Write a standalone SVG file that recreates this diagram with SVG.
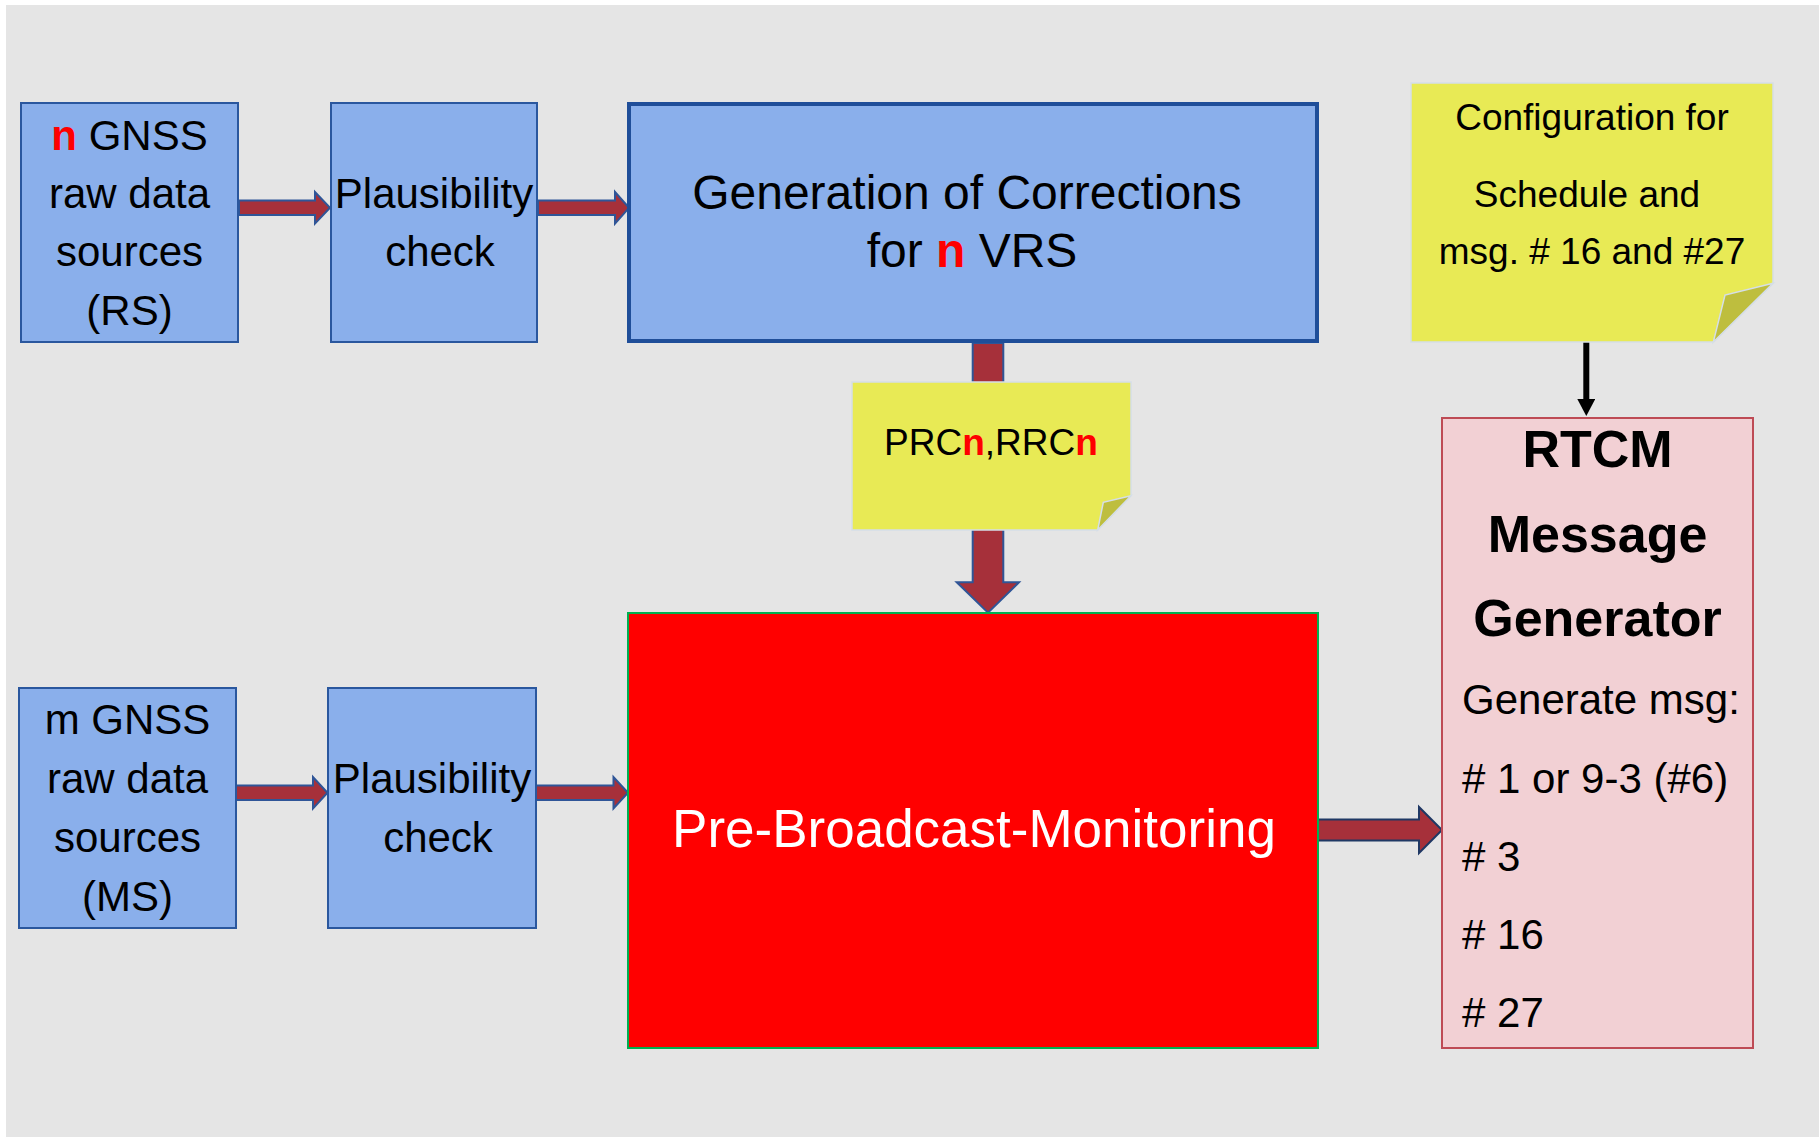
<svg xmlns="http://www.w3.org/2000/svg" width="1819" height="1137" viewBox="0 0 1819 1137">
<defs>
<style>
text{font-family:"Liberation Sans",Arial,sans-serif;fill:#000}
.blue{fill:#8AAFEB;stroke:#2A579E;stroke-width:2}
.blk{fill:#A6303A;stroke:#2F5597;stroke-width:2;stroke-linejoin:miter}
.note{fill:#E8EA55;stroke:#D5DEE8;stroke-width:1.5}
.fold{fill:#BEBE3E;stroke:#D5DEE8;stroke-width:1.5}
.t42{font-size:42px;text-anchor:middle}
.red{fill:#FF0000;font-weight:bold}
</style>
<marker id="blackhead" viewBox="0 0 18 18" refX="0" refY="9" markerWidth="18" markerHeight="18" markerUnits="userSpaceOnUse" orient="auto">
<path d="M0,0 L17,9 L0,18 z" fill="#000"/>
</marker>
</defs>
<rect x="0" y="0" width="1819" height="1137" fill="#FFFFFF"/>
<rect x="6" y="5" width="1813" height="1132" fill="#E5E5E5"/>

<g id="connectors">
<polygon class="blk" points="239,200.6 315,200.6 315,192 330,207.8 315,223.6 315,215 239,215"/>
<polygon class="blk" points="538,200.6 615,200.6 615,192 629,207.8 615,223.6 615,215 538,215"/>
<polygon class="blk" points="236,785.5 313,785.5 313,777 327.5,792.7 313,808.4 313,799.9 236,799.9"/>
<polygon class="blk" points="536,785.5 613.5,785.5 613.5,777 628,792.7 613.5,808.4 613.5,799.9 536,799.9"/>
<polygon class="blk" points="1318,819.5 1419,819.5 1419,807 1442,830 1419,853 1419,840.5 1318,840.5" style="stroke:#1F3864"/>
<polygon class="blk" points="972.7,343 1003.3,343 1003.3,582.3 1019,582.3 988,612.7 956.7,582.3 972.7,582.3"/>
<line x1="1586.3" y1="338" x2="1586.3" y2="399" stroke="#000" stroke-width="6" marker-end="url(#blackhead)"/>
</g>

<g id="rs">
<rect class="blue" x="21" y="103" width="217" height="239"/>
<text class="t42" x="129.5" y="150"><tspan class="red">n</tspan> GNSS</text>
<text class="t42" x="129.5" y="208">raw data</text>
<text class="t42" x="129.5" y="266">sources</text>
<text class="t42" x="129.5" y="325">(RS)</text>
</g>

<g id="plaus-top">
<rect class="blue" x="331" y="103" width="206" height="239"/>
<text class="t42" x="434" y="208">Plausibility</text>
<text class="t42" x="440" y="266">check</text>
</g>

<g id="generation">
<rect x="629" y="104" width="688" height="237" fill="#8AAFEB" stroke="#1F4E99" stroke-width="4"/>
<text x="967" y="209" font-size="48" text-anchor="middle">Generation of Corrections</text>
<text x="972" y="267" font-size="48" text-anchor="middle">for <tspan class="red">n</tspan> VRS</text>
</g>

<g id="prc-note">
<polygon class="note" points="852,382 1131,382 1131,495.7 1097.7,530 852,530"/>
<polygon class="fold" points="1131,495.7 1103.3,502.3 1097.7,530"/>
<text x="991" y="455" font-size="37" text-anchor="middle">PRC<tspan class="red">n</tspan>,RRC<tspan class="red">n</tspan></text>
</g>

<g id="config-note">
<polygon class="note" points="1411,83 1773,83 1773,283.3 1713.3,342 1411,342"/>
<polygon class="fold" points="1773,283.3 1725,295 1713.3,342"/>
<text x="1592" y="130" font-size="37" text-anchor="middle">Configuration for</text>
<text x="1587" y="206.7" font-size="37" text-anchor="middle">Schedule and</text>
<text x="1592" y="264" font-size="37" text-anchor="middle">msg. # 16 and #27</text>
</g>

<g id="ms">
<rect class="blue" x="19" y="688" width="217" height="240"/>
<text class="t42" x="127.5" y="734">m GNSS</text>
<text class="t42" x="127.5" y="793">raw data</text>
<text class="t42" x="127.5" y="852">sources</text>
<text class="t42" x="127.5" y="911">(MS)</text>
</g>

<g id="plaus-bottom">
<rect class="blue" x="328" y="688" width="208" height="240"/>
<text class="t42" x="432" y="793">Plausibility</text>
<text class="t42" x="438" y="852">check</text>
</g>

<g id="pbm">
<rect x="628" y="613" width="690" height="435" fill="#FF0000" stroke="#00B050" stroke-width="2"/>
<text x="974" y="847" font-size="53" text-anchor="middle" style="fill:#FFFFFF">Pre-Broadcast-Monitoring</text>
</g>

<g id="rtcm">
<rect x="1442" y="418" width="311" height="630" fill="#F2D0D4" stroke="#BE4B55" stroke-width="2"/>
<text x="1597.5" y="467" font-size="52" font-weight="bold" text-anchor="middle">RTCM</text>
<text x="1597.5" y="551.5" font-size="52" font-weight="bold" text-anchor="middle">Message</text>
<text x="1597.5" y="636" font-size="52" font-weight="bold" text-anchor="middle">Generator</text>
<text x="1462" y="713.6" font-size="42">Generate msg:</text>
<text x="1462" y="792.7" font-size="42"># 1 or 9-3 (#6)</text>
<text x="1462" y="870.5" font-size="42"># 3</text>
<text x="1462" y="949.2" font-size="42"># 16</text>
<text x="1462" y="1027" font-size="42"># 27</text>
</g>
</svg>
